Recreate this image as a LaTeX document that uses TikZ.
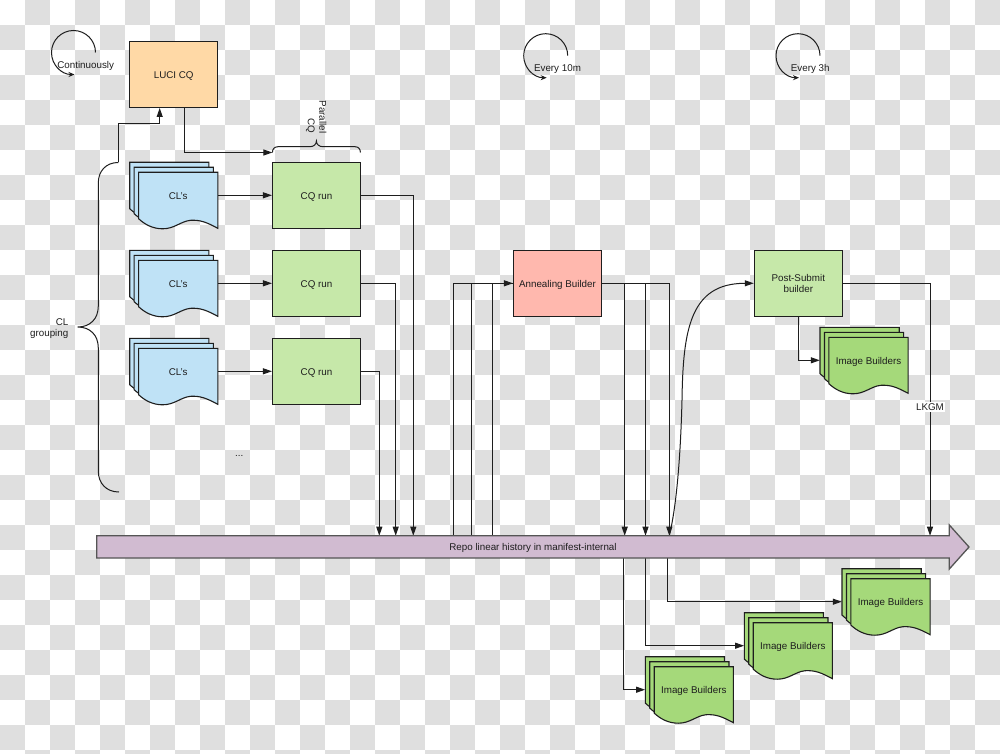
\documentclass[tikz,border=0pt]{standalone}
\usepackage{fontspec}
\setmainfont{Liberation Sans}
\usetikzlibrary{arrows.meta}
\definecolor{checker}{HTML}{DFDFDF}
\definecolor{inkc}{HTML}{1E1E1E}
\definecolor{lucifill}{HTML}{FFD9A6}
\definecolor{runfill}{HTML}{C6E8A9}
\definecolor{clfill}{HTML}{BFE2F6}
\definecolor{annealfill}{HTML}{FFB8AE}
\definecolor{imgfill}{HTML}{A5D97A}
\definecolor{barfill}{HTML}{D1BBD1}
\definecolor{barline}{HTML}{555555}
\tikzset{
  every node/.style={font=\fontsize{9.8}{11.5}\selectfont, text=inkc, inner sep=0pt},
  boxnode/.style={draw=inkc, line width=1.1pt, minimum width=88pt, minimum height=66pt, align=center},
  stacknode/.style={minimum width=88.1pt, minimum height=66pt},
  conn/.style={draw=inkc, line width=1pt, -{Triangle[length=9pt,width=6pt]}},
  plainline/.style={draw=inkc, line width=1pt},
  cycleline/.style={draw=inkc, line width=1pt, -{Stealth[length=6pt,width=5pt]}},
  sheet/.style={draw=inkc, line width=1.1pt},
}
\newcommand{\lowered}[1]{\raisebox{0pt}[7.6pt][0pt]{#1}}
\newcommand{\docsheet}[1]{%
  \filldraw[sheet, fill=#1] (0,0) -- (79.2,0) -- (79.2,56)
    .. controls (68,50) and (62,47.5) .. (52,48)
    .. controls (42,49) and (36,56.5) .. (24,56.5)
    .. controls (14,56.5) and (6,52) .. (0,46.4) -- cycle;}
\newcommand{\docstack}[5]{%
  \begin{scope}[shift={(#2,#3)}]
    \docsheet{#4}
    \begin{scope}[shift={(4.45,5)}]\docsheet{#4}\end{scope}
    \begin{scope}[shift={(8.9,10)}]\docsheet{#4}\end{scope}
    \node[stacknode] (#1) at (44.05,33) {};
    \node (#1-text) at (48.5,33) {\lowered{#5}};
  \end{scope}}
\newcommand{\cycleicon}[2]{%
  \draw[cycleline] (#1+22,#2) .. controls (#1+22,#2-12.15) and (#1+12.15,#2-22) .. (#1,#2-22)
    .. controls (#1-12.15,#2-22) and (#1-22,#2-12.15) .. (#1-22,#2)
    .. controls (#1-22,#2+12.15) and (#1-12.15,#2+22) .. (#1+1,#2+22);}
\begin{document}
\begin{tikzpicture}[x=1pt,y=-1pt]
\useasboundingbox (0,0) rectangle (1000,754);
% checker background
\fill[white] (0,0) rectangle (1000,754);
\begin{scope}
\clip (0,0) rectangle (1000,754);
\foreach \i in {0,...,39}{
  \foreach \j in {0,...,30}{
    \pgfmathtruncatemacro{\k}{mod(\i+\j,2)}
    \ifnum\k=1
      \fill[checker] (25*\i,25*\j) rectangle (25*\i+25,25*\j+25);
    \fi
  }
}
\end{scope}

% cycle icons
\cycleicon{73.5}{52.5}
\cycleicon{545.7}{55.7}
\cycleicon{798}{55.7}
\node (cont) at (85.7,64.8) {\lowered{Continuously}};
\node (ten) at (557.5,68) {\lowered{Every 10m}};
\node (three) at (810.2,68) {\lowered{Every 3h}};

% boxes
\node[boxnode, fill=lucifill] (luci) at (173.7,74.7) {\lowered{LUCI CQ}};
\node[boxnode, fill=runfill] (run1) at (316.5,195.3) {\lowered{CQ run}};
\node[boxnode, fill=runfill] (run2) at (316.5,283.3) {\lowered{CQ run}};
\node[boxnode, fill=runfill] (run3) at (316.5,371.3) {\lowered{CQ run}};
\node[boxnode, fill=annealfill] (anneal) at (557.5,283.3) {\lowered{Annealing Builder}};
\node[boxnode, fill=runfill] (post) at (798.3,283.3) {Post-Submit\\builder};

% document stacks
\docstack{cl1}{129.7}{162.3}{clfill}{CL's}
\docstack{cl2}{129.7}{250.3}{clfill}{CL's}
\docstack{cl3}{129.7}{338.3}{clfill}{CL's}
\docstack{img1}{820}{327.3}{imgfill}{Image Builders}
\docstack{img2}{842}{568.7}{imgfill}{Image Builders}
\docstack{img3}{744.3}{612.7}{imgfill}{Image Builders}
\docstack{img4}{645.3}{656.7}{imgfill}{Image Builders}

% braces
\coordinate (bl-top) at (118.3,162.5);
\coordinate (bl-tip) at (77.7,327);
\coordinate (bl-bot) at (119,492);
\draw[plainline] (bl-top) .. controls (106,162.5) and (98.3,171) .. (98.3,183)
  -- (98.3,306) .. controls (98.3,319) and (90,327) .. (bl-tip)
  .. controls (90,327) and (98.3,335) .. (98.3,348)
  -- (98.3,471) .. controls (98.3,483) and (106,492) .. (bl-bot);
\coordinate (bt-l) at (272.4,152.5);
\coordinate (bt-r) at (360.4,152.5);
\draw[plainline] (bt-l) .. controls (272.4,149) and (274.5,146.7) .. (278,146.7)
  -- (310,146.7) .. controls (313.5,146.7) and (316.4,144.5) .. (316.4,141)
  .. controls (316.4,144.5) and (319.3,146.7) .. (323,146.7)
  -- (355,146.7) .. controls (358.5,146.7) and (360.4,149) .. (bt-r);
\node (groupl) [anchor=east, align=right] at (68.5,328.5) {CL\\grouping};
\node (parl) [rotate=-90, anchor=east, align=right] at (316.3,133.5) {Parallel\\CQ};
\node (dots) at (239.3,456) {...};

% connector end points on the bar
\foreach \nm/\xx in {a1/379.3,a2/395.7,a3/413.3,b1/453,b2/471.7,b3/492.7,c1/624.7,c2/645.5,c3/669.3,lk/930}{
  \coordinate (\nm) at (\xx,535.7);
}
\foreach \nm/\xx in {d1/623.3,d2/645.3,d3/667.3}{
  \coordinate (\nm) at (\xx,558);
}
\coordinate (lucientry) at (159.7,108);
\coordinate (lucibend) at (159.7,124);
\coordinate (luciout) at (184.7,108);
\coordinate (brace-up) at (118.3,124);

\draw[conn] (bl-top) -- (brace-up) -- (lucibend) -- (lucientry);
\draw[conn] (luciout) |- (bt-l);
\draw[conn] (cl1.east) -- (run1.west);
\draw[conn] (cl2.east) -- (run2.west);
\draw[conn] (cl3.east) -- (run3.west);
\draw[conn] (run1.east) -| (a3);
\draw[conn] (run2.east) -| (a2);
\draw[conn] (run3.east) -| (a1);
\draw[conn] (b1) |- (anneal.west);
\draw[plainline] (b2) |- (anneal.west);
\draw[plainline] (b3) |- (anneal.west);
\draw[conn] (anneal.east) -| (c1);
\draw[conn] (anneal.east) -| (c2);
\draw[conn] (anneal.east) -| (c3);
\draw[conn] (c3) .. controls (678,500) and (681,440) .. (682,400)
  .. controls (683,330) and (690,283.3) .. (post.west);
\draw[conn] (post.south) |- (img1.west);
\draw[conn] (post.east) -| node[pos=0.745, fill=white, inner xsep=1pt, inner ysep=1.5pt] (lkgm) {LKGM} (lk);
\draw[conn] (d1) |- (img4.west);
\draw[conn] (d2) |- (img3.west);
\draw[conn] (d3) |- (img2.west);

% repo bar
\draw[draw=barline, line width=1.3pt, fill=barfill, line join=miter]
  (96.7,535.7) -- (949.3,535.7) -- (949.3,525) -- (969,547) -- (949.3,569) -- (949.3,558) -- (96.7,558) -- cycle;
\node (repo) at (533,547) {\lowered{Repo linear history in manifest-internal}};
\end{tikzpicture}
\end{document}
